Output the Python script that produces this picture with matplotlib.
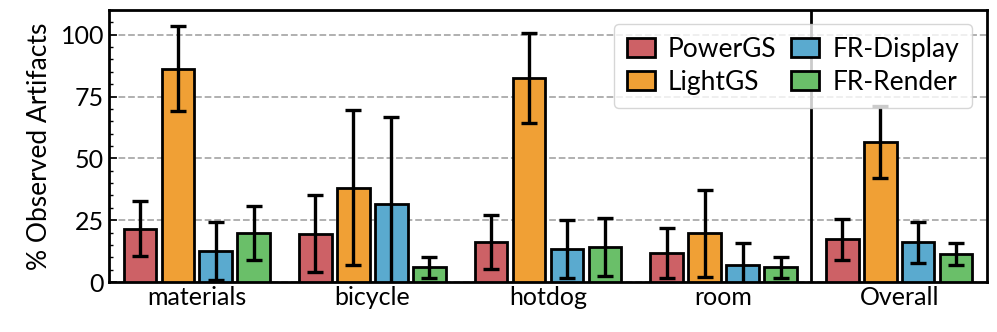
import numpy as np
import matplotlib.pyplot as plt
from matplotlib.ticker import MultipleLocator

plt.rcParams["font.family"] = ["Lato", "DejaVu Sans"]

# -----------------------------
# DATA
# -----------------------------
scenes = ["materials", "bicycle", "hotdog", "room", "Overall"]
methods = ["PowerGS", "LightGS", "FR-Display", "FR-Render"]

power_mean = [21.6, 19.5, 16.1, 11.8, 17.2]
power_err = [11.0, 15.5, 11.0, 10.1, 8.4]
light_mean = [86.2, 38.2, 82.5, 19.7, 56.6]
light_err = [17.2, 31.4, 18.3, 17.6, 14.6]
display_mean = [12.5, 31.7, 13.3, 7.0, 16.1]
display_err = [11.7, 34.9, 11.7, 8.9, 8.3]
render_mean = [19.9, 5.9, 14.1, 6.0, 11.4]
render_err = [11.0, 4.2, 11.7, 4.2, 4.5]

COLORS = {
    "PowerGS": "#CD6166",
    "LightGS": "#F0A035",
    "FR-Display": "#5AAACF",
    "FR-Render": "#6ABF69",
}

means = [power_mean, light_mean, display_mean, render_mean]
errs = [power_err, light_err, display_err, render_err]

# -----------------------------
# PLOT
# -----------------------------
fig = plt.figure(figsize=(9.97, 3.32), dpi=100)
ax = fig.add_axes([0.1093, 0.1506, 0.8807, 0.8194])

x = np.arange(len(scenes))
pitch = 0.216
width = 0.185

for i, m in enumerate(methods):
    ax.bar(
        x + (i - 1.5) * pitch,
        means[i],
        width,
        yerr=errs[i],
        color=COLORS[m],
        edgecolor="black",
        linewidth=2,
        label=m,
        capsize=6,
        error_kw=dict(elinewidth=2.4, capthick=2.4, ecolor="black"),
        zorder=3,
    )

ax.axvline(3.5, color="black", linewidth=2, zorder=4)

ax.set_xlim(-0.5, 4.5)
ax.set_ylim(0, 110)
ax.set_xticks(x)
ax.set_xticklabels(scenes, fontsize=18)
ax.tick_params(axis="x", length=0, pad=3)
ax.yaxis.set_major_locator(MultipleLocator(25))
ax.yaxis.set_minor_locator(MultipleLocator(5))
ax.tick_params(axis="y", which="major", direction="in", length=6, width=1.2, labelsize=18)
ax.tick_params(axis="y", which="minor", direction="in", length=3, width=1)
ax.set_ylabel("% Observed Artifacts", fontsize=19, labelpad=6)

ax.grid(axis="y", linestyle="--", color="#aaaaaa", linewidth=1.3, zorder=0)
ax.set_axisbelow(True)
for s in ax.spines.values():
    s.set_linewidth(2)

leg = ax.legend(
    ncol=2,
    loc="upper right",
    bbox_to_anchor=(0.983, 0.949),
    borderaxespad=0,
    fontsize=19,
    frameon=True,
    framealpha=0.8,
    edgecolor="#cccccc",
    handlelength=1.05,
    handleheight=0.75,
    columnspacing=0.55,
    handletextpad=0.5,
    labelspacing=0.3,
    borderpad=0.5,
)
leg.set_zorder(5)

fig.savefig("out.png", dpi=100)
